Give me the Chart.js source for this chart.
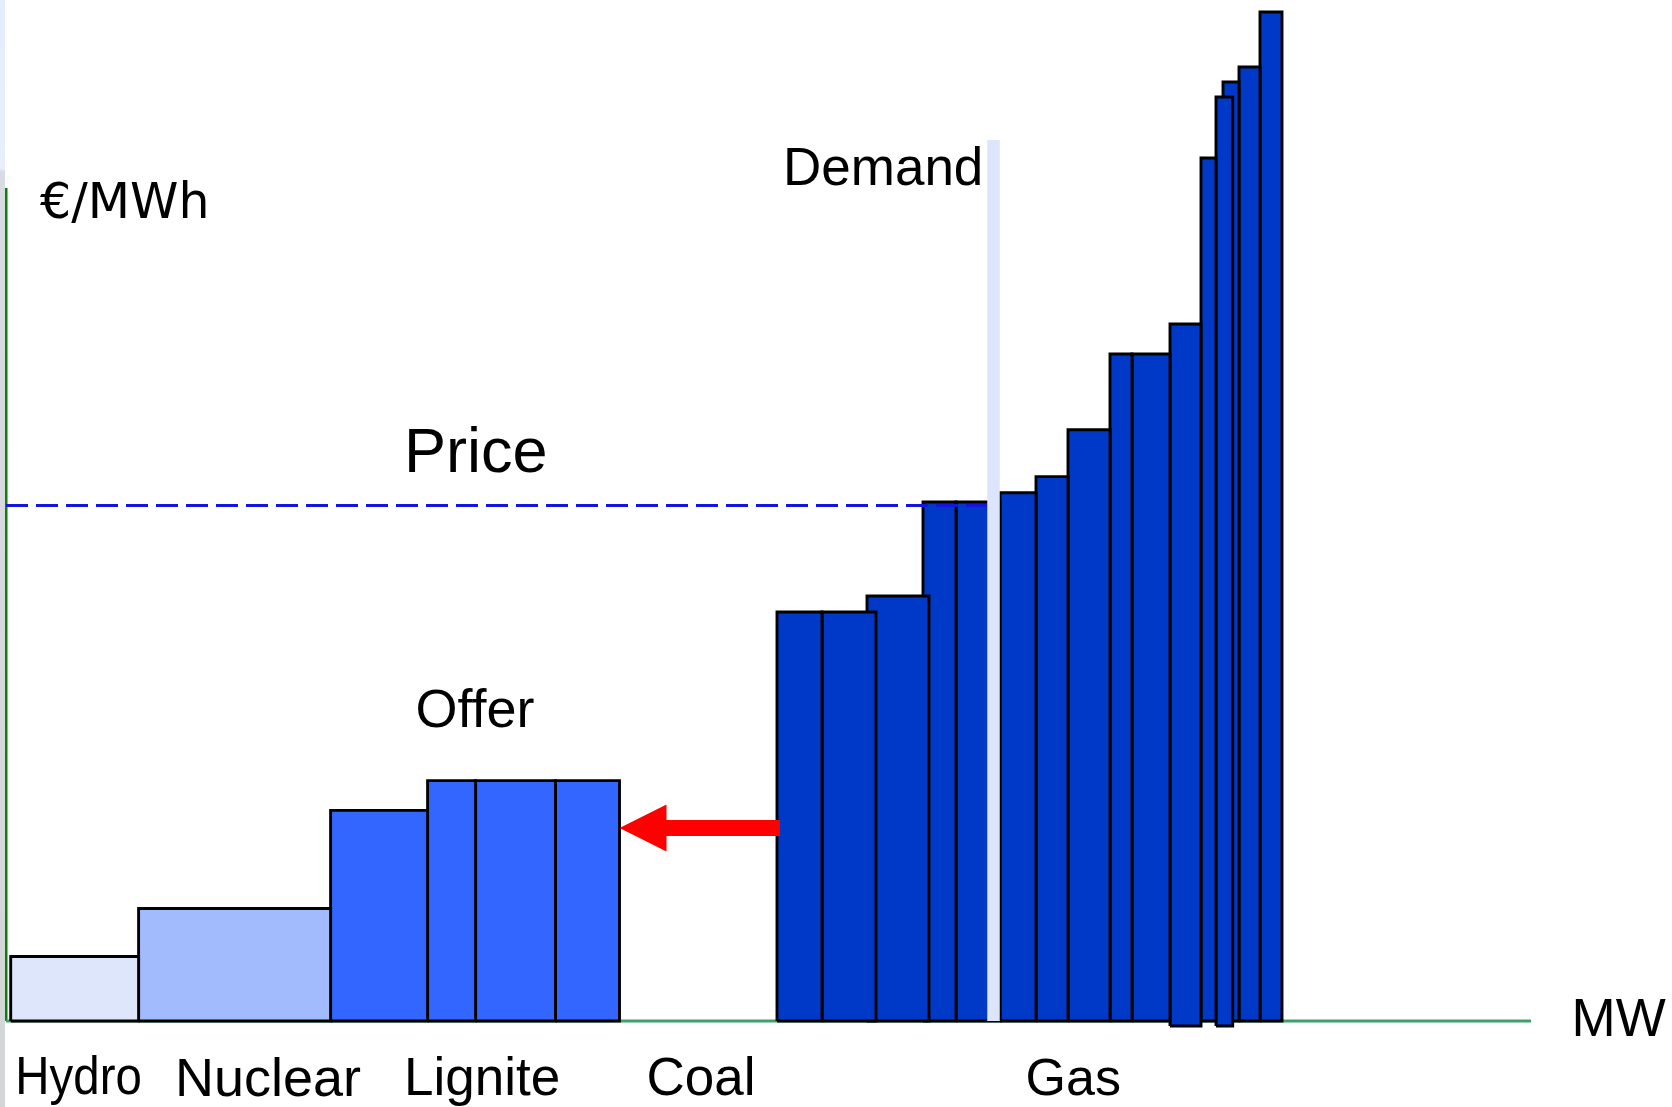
<!DOCTYPE html>
<html>
<head>
<meta charset="utf-8">
<script src="https://cdn.jsdelivr.net/npm/chart.js@4.4.1/dist/chart.umd.min.js"></script>
<style>
  html, body { margin: 0; padding: 0; background: #ffffff; }
  #wrap { position: relative; width: 1672px; height: 1107px; overflow: hidden; }
  #strip { position: absolute; left: 0; top: 0; width: 5px; height: 1107px;
           background: linear-gradient(#e4edfc 0px, #e8effb 168px, #d9dbe4 172px, #d6d8dc 700px, #d4d5d6 1107px); }
  canvas { position: absolute; left: 0; top: 0; }
</style>
</head>
<body>
<div id="wrap">
  <canvas id="c" width="1672" height="1107"></canvas>
  <div id="strip"></div>
</div>
<script>
// ---------------- DATA ----------------
const categories = ['Hydro', 'Nuclear', 'Lignite', 'Coal', 'Gas'];

const blockFuel = ['Hydro', 'Nuclear', 'Lignite', 'Lignite', 'Lignite', 'Lignite',
  'Gas', 'Gas', 'Gas', 'Gas', 'Gas', 'Gas', 'Gas', 'Gas', 'Gas', 'Gas', 'Gas', 'Gas', 'Gas', 'Gas', 'Gas', 'Gas'];
const blockStartMW = [47, 1326, 3246, 4216, 4696, 5495,
  7710, 8160, 8610, 9170, 9500, 9940, 10300, 10620, 11040, 11260, 11640, 11950, 12100, 12170, 12330, 12540];
const blockEndMW = [1326, 3246, 4216, 4696, 5495, 6135,
  8160, 8700, 9230, 9500, 9940, 10300, 10620, 11040, 11260, 11640, 11950, 12100, 12267, 12330, 12540, 12760];
const blockPrice = [6.45, 11.25, 21.06, 24.04, 24.04, 24.04,
  40.9, 40.9, 42.5, 51.9, 51.9, 52.83, 54.44, 59.13, 66.7, 66.7, 69.7, 86.3, 92.4, 93.9, 95.4, 100.9];
const blockFloor = [0, 0, 0, 0, 0, 0,
  0, 0, 0, 0, 0, 0, 0, 0, 0, 0, -0.5, 0, -0.5, 0, 0, 0];

const demandMW = 9875;
const demandTop = 88.1;
const clearingPrice = 51.55;
const priceLineEndMW = 9815;
const coalShift = { fromMW: 7740, toMW: 6135, price: 19.3 };
const axisMaxMW = 15250;
const axisTopPrice = 83.3;

// ---------------- STYLES ----------------
const fuelColor = { Hydro: '#dde6fb', Nuclear: '#a2bbfd', Lignite: '#3366ff', Gas: '#0039c8' };

const datasets = [];
datasets.push({
  label: 'demand',
  data: [{ x: demandMW, y: 0 }, { x: demandMW, y: demandTop }],
  borderColor: '#dce5fb', borderWidth: 12.5, borderCapStyle: 'butt',
  pointRadius: 0, fill: false, order: -3, clip: false
});
datasets.push({
  label: 'price',
  data: [{ x: 0, y: clearingPrice }, { x: priceLineEndMW, y: clearingPrice }],
  borderColor: '#1515e0', borderWidth: 2.8, borderDash: [22, 8],
  pointRadius: 0, fill: false, order: -2, clip: false
});
blockFuel.forEach((f, i) => {
  const s = blockStartMW[i], e = blockEndMW[i], p = blockPrice[i], b = blockFloor[i];
  datasets.push({
    label: f,
    data: [{ x: s, y: b }, { x: s, y: p }, { x: e, y: p }, { x: e, y: b }, { x: s, y: b }],
    backgroundColor: fuelColor[f], borderColor: '#000000', borderWidth: 2.9,
    borderJoinStyle: 'miter', pointRadius: 0, fill: 'shape', tension: 0,
    order: 0, clip: false
  });
});
datasets.push({
  label: 'x-axis',
  data: [{ x: 0, y: 0 }, { x: axisMaxMW, y: 0 }],
  borderColor: '#40a06a', borderWidth: 2.8, pointRadius: 0, fill: false, order: 100, clip: false
});
datasets.push({
  label: 'y-axis',
  data: [{ x: 0, y: 0 }, { x: 0, y: axisTopPrice }],
  borderColor: '#088308', borderWidth: 3, pointRadius: 0, fill: false, order: 100, clip: false
});

const textPlugin = {
  id: 'texts',
  afterDatasetsDraw(chart) {
    const ctx = chart.ctx;
    const xs = chart.scales.x, ys = chart.scales.y;
    const x0 = xs.getPixelForValue(coalShift.fromMW);
    const x1 = xs.getPixelForValue(coalShift.toMW);
    const y = ys.getPixelForValue(coalShift.price);
    ctx.save();
    ctx.fillStyle = '#ff0000';
    const headLen = 47, headHalf = 23.5, shaftHalf = 8;
    ctx.beginPath();
    ctx.moveTo(x1, y);
    ctx.lineTo(x1 + headLen, y - headHalf);
    ctx.lineTo(x1 + headLen, y - shaftHalf);
    ctx.lineTo(x0, y - shaftHalf);
    ctx.lineTo(x0, y + shaftHalf);
    ctx.lineTo(x1 + headLen, y + shaftHalf);
    ctx.lineTo(x1 + headLen, y + headHalf);
    ctx.closePath();
    ctx.fill();
    ctx.restore();
  },
  afterDraw(chart) {
    const ctx = chart.ctx;
    ctx.save();
    ctx.fillStyle = '#000000';
    ctx.textAlign = 'left';
    ctx.textBaseline = 'alphabetic';
    const A = '"Liberation Sans", Arial, sans-serif';
    const put = (txt, font, x, y, sx) => {
      ctx.save();
      ctx.font = font;
      ctx.translate(x, y);
      ctx.scale(sx || 1, 1);
      ctx.fillText(txt, 0, 0);
      ctx.restore();
    };
    put('€/MWh', '49px "DejaVu Sans", sans-serif', 40, 218);
    put('Demand', '53px ' + A, 783, 185);
    put('Price', '63px ' + A, 404, 472);
    put('Offer', '54px ' + A, 415.5, 727);
    put('MW', '53px ' + A, 1571.5, 1036);
    const catPos = {
      Hydro: [15.3, 1094, 53, 0.895], Nuclear: [175, 1096, 54, 1], Lignite: [404, 1095, 53, 1],
      Coal: [646.5, 1095, 53, 1], Gas: [1025.6, 1095, 52, 1]
    };
    categories.forEach(c => {
      const [px, py, fs, sx] = catPos[c];
      put(c, fs + 'px ' + A, px, py, sx);
    });
    ctx.restore();
  }
};

new Chart(document.getElementById('c'), {
  type: 'line',
  data: { datasets },
  options: {
    responsive: false,
    animation: false,
    events: [],
    layout: { padding: { left: 6, right: 141, top: 1, bottom: 76 } },
    plugins: { legend: { display: false }, tooltip: { enabled: false }, title: { display: false } },
    scales: {
      x: { type: 'linear', min: 0, max: axisMaxMW, display: false },
      y: { type: 'linear', min: -1, max: 102, display: false }
    }
  },
  plugins: [textPlugin]
});
</script>
</body>
</html>
